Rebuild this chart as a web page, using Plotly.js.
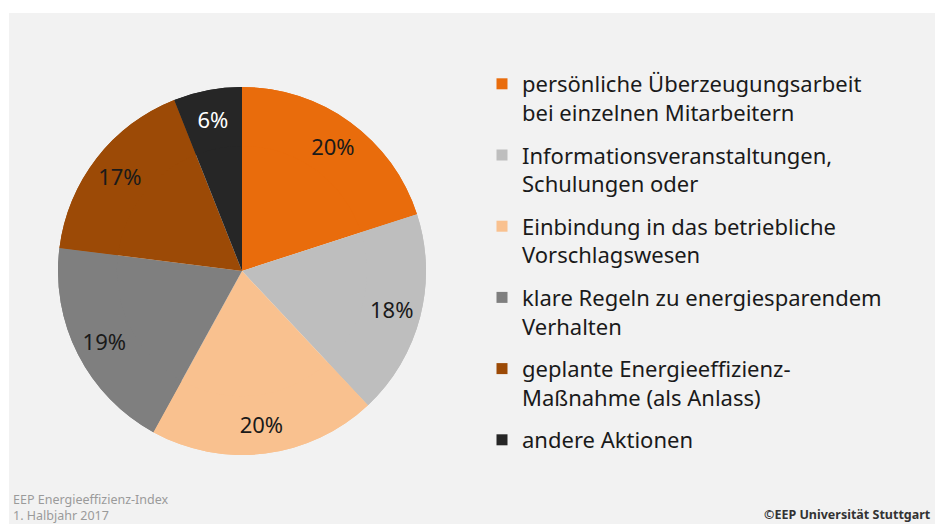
<!DOCTYPE html>
<html>
<head>
<meta charset="utf-8">
<script src="https://cdn.plot.ly/plotly-3.0.1.min.js"></script>
<style>
  html, body { margin:0; padding:0; background:#ffffff; }
  #bg { position:absolute; left:9px; top:13px; width:926px; height:511px; background:#f2f2f2; }
  #plot { position:absolute; left:0; top:0; width:935px; height:524px; }
</style>
</head>
<body>
<div id="bg"></div>
<div id="plot"></div>
<script>
const labels = [
  "persönliche Überzeugungsarbeit<br>bei einzelnen Mitarbeitern",
  "Informationsveranstaltungen,<br>Schulungen oder",
  "Einbindung in das betriebliche<br>Vorschlagswesen",
  "klare Regeln zu energiesparendem<br>Verhalten",
  "geplante Energieeffizienz-<br>Maßnahme (als Anlass)",
  "andere Aktionen"
];
const values = [20, 18, 20, 19, 17, 6];
const colors = ["#e96c0c", "#bebebe", "#f9c18f", "#7f7f7f", "#9c4a06", "#262626"];
const textColors = ["#1a1a1a", "#1a1a1a", "#1a1a1a", "#1a1a1a", "#1a1a1a", "#ffffff"];

const FONT = "Noto Sans, Open Sans, sans-serif";
const pieDomain = { x: [58/935, 426/935], y: [69/524, 437/524] };

// full pie (slices)
const pieBase = {
  type: "pie",
  labels: labels,
  values: values,
  sort: false,
  direction: "clockwise",
  rotation: 0,
  marker: { colors: colors, line: { width: 0 } },
  textinfo: "none",
  showlegend: false,
  hoverinfo: "skip",
  domain: pieDomain
};

// same slices as an outer ring, carrying the percentage labels further out
const pieLabels = {
  type: "pie",
  labels: labels,
  values: values,
  sort: false,
  direction: "clockwise",
  rotation: 0,
  hole: 0.68,
  marker: { colors: colors, line: { width: 0 } },
  texttemplate: "%{value}%",
  textposition: "inside",
  insidetextorientation: "horizontal",
  textfont: { family: FONT, size: 22, color: textColors },
  showlegend: false,
  hoverinfo: "label+percent",
  domain: pieDomain
};

const legendTraces = labels.map((lab, i) => ({
  type: "scatter",
  x: [null], y: [null],
  mode: "markers",
  name: lab,
  legendgroup: "g" + i,
  showlegend: true,
  hoverinfo: "skip",
  marker: { symbol: "square", size: 11, color: colors[i] }
}));

const layout = {
  width: 935, height: 524,
  margin: { l: 0, r: 0, t: 0, b: 0 },
  paper_bgcolor: "rgba(0,0,0,0)",
  plot_bgcolor: "rgba(0,0,0,0)",
  xaxis: { visible: false },
  yaxis: { visible: false },
  showlegend: true,
  legend: {
    x: 482/935, xanchor: "left",
    y: (524-63)/524, yanchor: "top",
    font: { family: FONT, size: 22, color: "#1a1a1a" },
    valign: "top",
    tracegroupgap: 11,
    bgcolor: "rgba(0,0,0,0)",
    itemclick: false, itemdoubleclick: false
  },
  annotations: [
    { xref: "paper", yref: "paper", x: 11/935, y: (524-507)/524, xanchor: "left", yanchor: "middle",
      text: "EEP Energieeffizienz-Index<br>1. Halbjahr 2017", showarrow: false, align: "left",
      font: { family: FONT, size: 12.5, color: "#9a9a9a" } },
    { xref: "paper", yref: "paper", x: 933/935, y: (524-514)/524, xanchor: "right", yanchor: "middle",
      text: "<b>©EEP Universität Stuttgart</b>", showarrow: false,
      font: { family: FONT, size: 12.5, color: "#333333" } }
  ]
};

Plotly.newPlot("plot", [pieBase, pieLabels].concat(legendTraces), layout, { displayModeBar: false, staticPlot: true });
</script>
</body>
</html>
